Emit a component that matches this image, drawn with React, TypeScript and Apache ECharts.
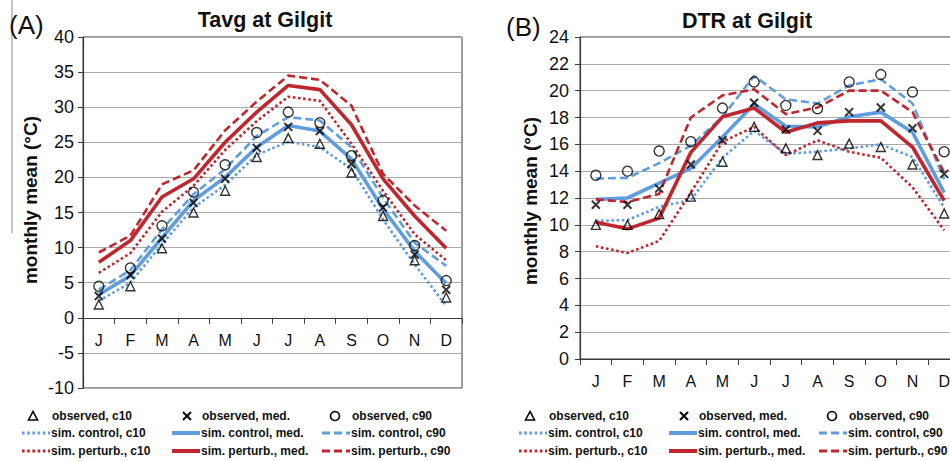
import React, { useEffect, useRef } from "react";
import * as echarts from "echarts";

const months = ["J", "F", "M", "A", "M", "J", "J", "A", "S", "O", "N", "D"];

// Tavg at Gilgit
const tavgObsC10 = [1.9, 4.5, 9.9, 15.0, 18.1, 22.9, 25.6, 24.8, 20.7, 14.5, 8.2, 2.9];
const tavgObsMed = [3.1, 6.1, 11.3, 16.4, 19.8, 24.2, 27.2, 26.6, 21.9, 15.7, 9.0, 4.0];
const tavgObsC90 = [4.5, 7.1, 13.1, 17.9, 21.8, 26.4, 29.3, 27.8, 23.1, 16.7, 10.3, 5.3];
const tavgCtlC10 = [2.4, 5.0, 10.5, 15.7, 18.9, 23.2, 25.1, 24.3, 21.2, 14.0, 7.6, 1.7];
const tavgCtlMed = [3.3, 6.0, 11.4, 16.7, 20.0, 24.3, 27.4, 26.6, 22.6, 15.5, 9.5, 4.9];
const tavgCtlC90 = [4.0, 6.8, 12.6, 17.6, 21.2, 25.9, 28.6, 28.1, 24.3, 17.1, 10.7, 7.4];
const tavgPtbC10 = [6.4, 9.2, 15.1, 18.8, 23.9, 28.0, 31.5, 30.9, 24.8, 18.1, 11.9, 8.2];
const tavgPtbMed = [7.9, 11.0, 17.2, 19.8, 25.0, 29.3, 33.1, 32.5, 27.5, 19.8, 14.5, 9.9];
const tavgPtbC90 = [9.3, 11.7, 19.0, 21.0, 26.7, 30.8, 34.5, 33.9, 30.2, 20.5, 16.0, 12.4];

// DTR at Gilgit
const dtrObsC10 = [10.0, 10.0, 10.8, 12.1, 14.7, 17.3, 15.7, 15.2, 16.05, 15.8, 14.5, 10.85];
const dtrObsMed = [11.5, 11.5, 12.7, 14.5, 16.3, 19.1, 17.1, 17.0, 18.4, 18.75, 17.2, 13.8];
const dtrObsC90 = [13.7, 14.0, 15.5, 16.2, 18.7, 20.65, 18.9, 18.65, 20.65, 21.2, 19.9, 15.45];
const dtrCtlC10 = [10.3, 10.35, 11.35, 11.85, 15.0, 17.0, 15.3, 15.45, 15.7, 16.0, 15.05, 11.3];
const dtrCtlMed = [11.9, 12.0, 13.1, 14.2, 16.55, 19.0, 17.35, 17.3, 18.05, 18.4, 16.9, 12.4];
const dtrCtlC90 = [13.45, 13.5, 14.6, 15.9, 18.05, 21.1, 19.35, 19.05, 20.4, 20.85, 19.05, 13.4];
const dtrPtbC10 = [8.4, 7.9, 8.8, 12.4, 16.2, 17.3, 15.2, 16.3, 15.45, 15.0, 12.8, 9.6];
const dtrPtbMed = [10.2, 9.7, 10.5, 15.4, 18.05, 18.7, 16.9, 17.6, 17.75, 17.75, 15.8, 11.8];
const dtrPtbC90 = [11.9, 11.7, 12.3, 18.0, 19.65, 20.1, 18.25, 18.75, 20.0, 20.0, 18.4, 13.9];

const legendLabels = [
  "observed, c10", "observed, med.", "observed, c90",
  "sim. control, c10", "sim. control, med.", "sim. control, c90",
  "sim. perturb., c10", "sim. perturb., med.", "sim. perturb., c90",
];

const BLUE = "#5f9ddf";
const RED = "#c0262d";
const FONT = '"Liberation Sans", Arial, sans-serif';
const CROSS = "path://M0,0L10,10M10,0L0,10";

const lineStyles = {
  c10: { width: 2.6, type: [2.6, 2.6] as any, cap: "butt" as const },
  med: { width: 3.6, type: "solid" as any, cap: "butt" as const },
  c90: { width: 2.6, type: [8, 4] as any, cap: "butt" as const },
};

function lineSeries(gi: number, data: number[], color: string, kind: "c10" | "med" | "c90") {
  const s = lineStyles[kind];
  return {
    type: "line",
    xAxisIndex: gi,
    yAxisIndex: gi,
    data,
    symbol: "none",
    showSymbol: false,
    z: 2,
    lineStyle: { color, width: s.width, type: s.type, cap: s.cap },
  };
}

function markSeries(gi: number, data: number[], symbol: string, size: number, bw: number) {
  return {
    type: "scatter",
    xAxisIndex: gi,
    yAxisIndex: gi,
    data,
    symbol,
    symbolSize: size,
    z: 5,
    itemStyle: { color: "rgba(0,0,0,0)", borderColor: "#000", borderWidth: bw },
  };
}

function chartSeries(gi: number, d: number[][]) {
  return [
    lineSeries(gi, d[3], BLUE, "c10"),
    lineSeries(gi, d[4], BLUE, "med"),
    lineSeries(gi, d[5], BLUE, "c90"),
    lineSeries(gi, d[6], RED, "c10"),
    lineSeries(gi, d[7], RED, "med"),
    lineSeries(gi, d[8], RED, "c90"),
    markSeries(gi, d[0], "triangle", 9, 1.4),
    markSeries(gi, d[1], CROSS, 8, 2),
    markSeries(gi, d[2], "circle", 10, 1.4),
  ];
}

function legendGraphics(dx: number) {
  const rows = [416, 433, 451];
  const symX = [33, 187, 335];
  const txtX0 = [52, 202, 352];
  const lineX = [22, 172, 322];
  const txtX = [51, 201, 351];
  const els: any[] = [];
  const font = `bold 12px ${FONT}`;
  const y0 = rows[0];
  els.push({
    type: "polygon",
    shape: { points: [[symX[0] + dx, y0 - 4.5], [symX[0] + dx - 4.5, y0 + 4], [symX[0] + dx + 4.5, y0 + 4]] },
    style: { fill: "none", stroke: "#000", lineWidth: 1.6 },
  });
  els.push({ type: "line", shape: { x1: symX[1] + dx - 4, y1: y0 - 4, x2: symX[1] + dx + 4, y2: y0 + 4 }, style: { stroke: "#000", lineWidth: 2 } });
  els.push({ type: "line", shape: { x1: symX[1] + dx + 4, y1: y0 - 4, x2: symX[1] + dx - 4, y2: y0 + 4 }, style: { stroke: "#000", lineWidth: 2 } });
  els.push({ type: "circle", shape: { cx: symX[2] + dx, cy: y0, r: 4.5 }, style: { fill: "none", stroke: "#000", lineWidth: 1.6 } });
  for (let i = 0; i < 3; i++) {
    els.push({
      type: "text",
      style: { text: legendLabels[i], x: txtX0[i] + dx, y: y0, font, fill: "#111", textVerticalAlign: "middle", textAlign: "left" },
    });
  }
  const kinds: ("c10" | "med" | "c90")[] = ["c10", "med", "c90"];
  for (let r = 1; r < 3; r++) {
    const color = r === 1 ? BLUE : RED;
    for (let i = 0; i < 3; i++) {
      const s = lineStyles[kinds[i]];
      els.push({
        type: "line",
        shape: { x1: lineX[i] + dx, y1: rows[r], x2: lineX[i] + dx + 28, y2: rows[r] },
        style: {
          stroke: color,
          lineWidth: s.width + 0.4,
          lineDash: s.type === "solid" ? null : s.type,
          lineCap: "butt",
        },
      });
      els.push({
        type: "text",
        style: { text: legendLabels[r * 3 + i], x: txtX[i] + dx, y: rows[r], font, fill: "#111", textVerticalAlign: "middle", textAlign: "left" },
      });
    }
  }
  return els;
}

function yTitle(x: number, y: number) {
  return {
    type: "text",
    x,
    y,
    rotation: Math.PI / 2,
    style: {
      text: "monthly mean (°C)",
      font: `bold 19px ${FONT}`,
      fill: "#111",
      textAlign: "center",
      textVerticalAlign: "middle",
    },
  };
}

export default function App() {
  const ref = useRef<HTMLDivElement>(null);
  useEffect(() => {
    if (!ref.current) return;
    const chart = echarts.init(ref.current, undefined, { renderer: "svg" });
    const axisColor = "#3a3a3a";
    const gridColor = "#a9a9a9";
    const xAxisCommon = (gi: number, margin: number, offset: number) => ({
      type: "category",
      gridIndex: gi,
      data: months,
      boundaryGap: true,
      position: "bottom",
      offset,
      axisLine: { show: true, onZero: false, lineStyle: { color: axisColor, width: 1.2 } },
      axisTick: { show: true, length: 6, alignWithLabel: false, lineStyle: { color: axisColor } },
      axisLabel: { margin, fontSize: 16, color: "#111", fontFamily: FONT, interval: 0 },
      splitLine: { show: false },
    });
    const yAxisCommon = (gi: number, min: number, max: number, interval: number, margin: number) => ({
      type: "value",
      gridIndex: gi,
      min,
      max,
      interval,
      axisLine: { show: true, onZero: false, lineStyle: { color: axisColor, width: 1.2 } },
      axisTick: { show: true, length: 5, lineStyle: { color: axisColor } },
      axisLabel: { margin, fontSize: 18, color: "#111", fontFamily: FONT },
      splitLine: { show: true, lineStyle: { color: gridColor, width: 1 } },
    });
    const tavg = [tavgObsC10, tavgObsMed, tavgObsC90, tavgCtlC10, tavgCtlMed, tavgCtlC90, tavgPtbC10, tavgPtbMed, tavgPtbC90];
    const dtr = [dtrObsC10, dtrObsMed, dtrObsC90, dtrCtlC10, dtrCtlMed, dtrCtlC90, dtrPtbC10, dtrPtbMed, dtrPtbC90];
    const leftH = 351;
    const zeroOffset = -leftH * (10 / 50);
    chart.setOption({
      animation: false,
      backgroundColor: "#fff",
      grid: [
        { left: 83, top: 37, width: 379, height: leftH, show: true, borderColor: axisColor, borderWidth: 1, backgroundColor: "transparent", outerBoundsMode: "none", containLabel: false },
        { left: 580, top: 37, width: 380, height: 322, show: true, borderColor: axisColor, borderWidth: 1, backgroundColor: "transparent", outerBoundsMode: "none", containLabel: false },
      ],
      xAxis: [xAxisCommon(0, 15, zeroOffset), xAxisCommon(1, 14, 0)],
      yAxis: [yAxisCommon(0, -10, 40, 5, 9), yAxisCommon(1, 0, 24, 2, 11)],
      series: [...chartSeries(0, tavg), ...chartSeries(1, dtr)],
      graphic: [
        { type: "line", shape: { x1: 12, y1: 0, x2: 12, y2: 233 }, style: { stroke: "#8a8a8a", lineWidth: 1 } },
        { type: "text", style: { text: "(A)", x: 9, y: 25, font: `26px ${FONT}`, fill: "#111", textVerticalAlign: "middle" } },
        { type: "text", style: { text: "Tavg at Gilgit", x: 265, y: 20, font: `bold 21.5px ${FONT}`, fill: "#111", textAlign: "center", textVerticalAlign: "middle" } },
        { type: "text", style: { text: "(B)", x: 506, y: 27, font: `26px ${FONT}`, fill: "#111", textVerticalAlign: "middle" } },
        { type: "text", style: { text: "DTR at Gilgit", x: 747, y: 21, font: `bold 21.5px ${FONT}`, fill: "#111", textAlign: "center", textVerticalAlign: "middle" } },
        yTitle(30, 200),
        yTitle(530, 201),
        ...legendGraphics(0),
        ...legendGraphics(497),
      ],
    });
    return () => chart.dispose();
  }, []);
  return (
    <div
      ref={ref}
      style={{ position: "fixed", left: 0, top: 0, width: 950, height: 461, background: "#fff" }}
    />
  );
}
